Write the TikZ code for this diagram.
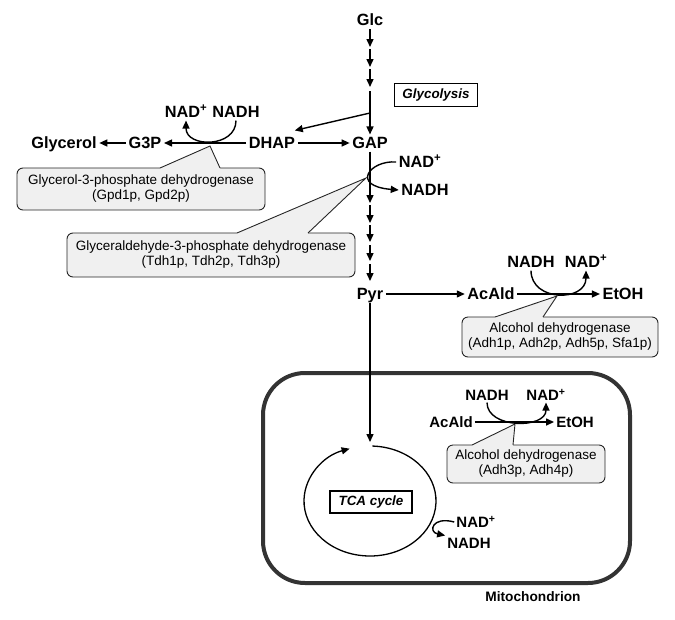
\documentclass[tikz,border=0pt]{standalone}
\usepackage{fontspec}
\setmainfont{Liberation Sans}
\usetikzlibrary{arrows.meta}

% pointer of an enzyme box: top y, left x, right x, tip
\newcommand{\enzpointer}[4]{%
  \fill[black!6] (#2,#1+1.5) -- (#2,#1) -- (#4) -- (#3,#1) -- (#3,#1+1.5) -- cycle;
  \draw[line width=0.9pt, black!85] (#2,#1) -- (#4) -- (#3,#1);}

\begin{document}
\begin{tikzpicture}[x=1pt, y=-1pt,
    metab/.style={font=\fontsize{16.3}{18}\selectfont\bfseries, inner sep=2.5pt, text height=11.7pt, text depth=0pt},
    mitometab/.style={font=\fontsize{15}{17}\selectfont\bfseries, inner sep=2pt, text height=10.7pt, text depth=0pt},
    enzyme/.style={draw=black!85, fill=black!6, rounded corners=6pt, line width=0.9pt, align=center, inner sep=0pt, font=\fontsize{13.5}{15}\selectfont},
    tagbox/.style={draw, line width=1.2pt, inner sep=0pt, font=\fontsize{13.4}{15}\selectfont\bfseries\itshape},
    flow/.style={-{Triangle[length=8pt,width=7pt]}, line width=1.4pt},
  ]
  \useasboundingbox (0,0) rectangle (675,619);

  % mitochondrion
  \draw[line width=4pt, black!80, rounded corners=42pt] (263,373) rectangle (630,583);
  \node[font=\fontsize{13.7}{15}\selectfont\bfseries, text height=9.8pt, text depth=0pt] (mito) at (533,597) {Mitochondrion};

  % metabolites
  \node[metab] (glc) at (370,20) {Glc};
  \node[metab] (gap) at (370,143) {GAP};
  \node[metab] (dhap) at (272,143) {DHAP};
  \node[metab] (g3p) at (145,143) {G3P};
  \node[metab] (glycerol) at (64,143) {Glycerol};
  \node[metab] (pyr) at (370,294) {Pyr};
  \node[metab] (acald) at (491,294) {AcAld};
  \node[metab] (etoh) at (623,294) {EtOH};
  \node[metab] (nadA) at (186,112) {NAD\textsuperscript{+}};
  \node[metab] (nadhA) at (236,112) {NADH};
  \node[metab] (nadB) at (420,162) {NAD\textsuperscript{+}};
  \node[metab] (nadhB) at (425,190) {NADH};
  \node[metab] (nadhC) at (531,262) {NADH};
  \node[metab] (nadC) at (586,262) {NAD\textsuperscript{+}};
  \node[mitometab] (acaldM) at (451,422) {AcAld};
  \node[mitometab] (etohM) at (575,422) {EtOH};
  \node[mitometab] (nadhM) at (487,395) {NADH};
  \node[mitometab] (nadM) at (546,395) {NAD\textsuperscript{+}};
  \node[mitometab] (nadT) at (476,522) {NAD\textsuperscript{+}};
  \node[mitometab] (nadhT) at (469,543) {NADH};

  \node[tagbox, minimum width=83pt, minimum height=23pt] (glyco) at (436,95) {Glycolysis};
  \node[tagbox, minimum width=82pt, minimum height=22pt] (tca) at (371,502) {TCA cycle};

  % enzymes
  \node[enzyme, minimum width=248pt, minimum height=42pt] (gpd) at (141,189) {Glycerol-3-phosphate dehydrogenase\\(Gpd1p, Gpd2p)};
  \node[enzyme, minimum width=288pt, minimum height=44pt] (tdh) at (211,255) {Glyceraldehyde-3-phosphate dehydrogenase\\(Tdh1p, Tdh2p, Tdh3p)};
  \node[enzyme, minimum width=196pt, minimum height=40pt] (adh) at (560,337) {Alcohol dehydrogenase\\(Adh1p, Adh2p, Adh5p, Sfa1p)};
  \node[enzyme, minimum width=158pt, minimum height=38pt] (adhm) at (526,464) {Alcohol dehydrogenase\\(Adh3p, Adh4p)};
  \coordinate (gpdtip) at (210,146);
  \coordinate (tdhtip) at (366,178);
  \coordinate (adhtip) at (557,296);
  \coordinate (adhmtip) at (515,424);
  \enzpointer{168}{160}{220}{gpdtip}
  \enzpointer{233}{237}{308}{tdhtip}
  \enzpointer{317}{495}{543}{adhtip}
  \enzpointer{445}{472}{513}{adhmtip}

  % glycolysis
  \foreach \n/\a/\b in {1/29/47, 2/49/67, 3/69/87}{
    \coordinate (up\n) at (370,\a);
    \coordinate (dn\n) at (370,\b);
    \draw[flow] (up\n) -- (dn\n);
  }
  \coordinate (up4) at (370,91);
  \draw[flow] (up4) -- (gap);
  \coordinate (fork) at (370,113);
  \draw[flow] (fork) -- ([xshift=-3pt,yshift=4pt]dhap.north east);
  \draw[flow] (dhap) -- (gap);
  \draw[flow] (dhap) -- (g3p);
  \draw[flow] (g3p) -- (glycerol);
  \draw[flow] (nadhA.south) .. controls (236,148) and (186,148) .. (nadA.south);

  \coordinate (dn5) at (370,203);
  \draw[flow] (gap) -- (dn5);
  \draw[flow] (nadB.west) .. controls (370,160) and (350,186) .. (nadhB.west);
  \foreach \n/\a/\b in {6/205/223, 7/225/242, 8/245/261, 9/264/281}{
    \coordinate (up\n) at (370,\a);
    \coordinate (dn\n) at (370,\b);
    \draw[flow] (up\n) -- (dn\n);
  }

  % fermentation
  \draw[flow] (pyr) -- (acald);
  \draw[flow] (acald) -- (etoh);
  \draw[flow] (nadhC.south) .. controls (531,302) and (586,302) .. (nadC.south);

  % mitochondrion
  \coordinate (tcain) at (370,442);
  \draw[flow] (pyr) -- (tcain);
  \draw[flow] (acaldM) -- (etohM);
  \draw[flow] (nadhM.south) .. controls (487,429) and (546,429) .. (nadM.south);
  \coordinate (tcactr) at (370,501);
  \draw[flow, line width=1.3pt] ([shift={(-88:66 and 55)}]tcactr) arc[start angle=-88, end angle=252, x radius=66, y radius=55];
  \draw[flow] (nadT.west) .. controls (432,516) and (428,532) .. (nadhT.north west);
\end{tikzpicture}
\end{document}
